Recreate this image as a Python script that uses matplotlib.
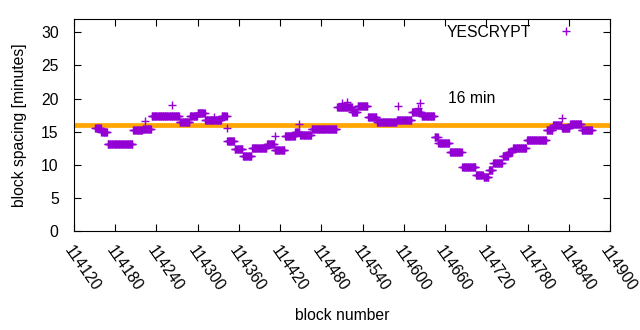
import numpy as np
import matplotlib.pyplot as plt

plt.rcParams['font.family'] = ['Liberation Sans', 'DejaVu Sans']

seg_start = [114151, 114160, 114169, 114206, 114220, 114233, 114274, 114289, 114300,
             114311, 114335, 114343, 114354, 114366, 114379, 114401, 114412, 114427,
             114442, 114449, 114466, 114503, 114525, 114533, 114548, 114561, 114590,
             114612, 114626, 114645, 114650, 114667, 114685, 114705, 114716, 114724,
             114730, 114744, 114752, 114759, 114779, 114808, 114817, 114830, 114842,
             114859]
seg_end = seg_start[1:] + [114875]
seg_value = [15.5, 15.0, 13.2, 15.2, 15.4, 17.3, 16.5, 17.3, 17.8,
             16.8, 17.4, 13.6, 12.4, 11.3, 12.6, 13.1, 12.2, 14.3,
             15.0, 14.5, 15.4, 18.7, 18.0, 18.8, 17.2, 16.5, 16.8,
             18.0, 17.3, 14.2, 13.3, 12.0, 9.7, 8.5, 8.1, 9.2,
             10.3, 11.3, 12.0, 12.6, 13.8, 15.3, 16.0, 15.5, 16.2,
             15.3]

# single blocks standing off their run
odd_block = [114223, 114263, 114324, 114343, 114412, 114447, 114510, 114518,
             114591, 114620, 114623, 114830]
odd_value = [16.6, 19.0, 17.2, 15.6, 14.4, 16.2, 19.3, 19.5,
             18.9, 18.6, 19.3, 17.0]

blocks = []
spacing = []
for s, e, v in zip(seg_start, seg_end, seg_value):
    for b in range(s, e):
        blocks.append(b)
        spacing.append(v)
blocks += odd_block
spacing += odd_value

target = 16
xticks = list(range(114120, 114901, 60))
fs = 11.3

fig = plt.figure(figsize=(6.4, 3.3), dpi=100)
ax = fig.add_axes([0.1156, 0.30, 0.8375, 0.6424])

ax.axhline(target, color='#FFA500', linewidth=3.4, zorder=1)
ax.plot(blocks, spacing, linestyle='none', marker='+', markersize=5.5,
        markeredgewidth=1.0, color='#9400D3', label='YESCRYPT', zorder=2)
ax.text(114665, 20, '16 min', fontsize=fs, ha='left', va='center')

ax.set_xlim(114120, 114900)
ax.set_ylim(0, 32)
ax.set_xticks(xticks)
ax.set_xticklabels([str(t) for t in xticks], rotation=-55, ha='left', va='top',
                   rotation_mode='anchor')
ax.set_yticks(range(0, 31, 5))
ax.tick_params(direction='in', length=5, width=0.8, top=True, right=True,
               labelsize=fs)
ax.tick_params(axis='y', pad=11)
ax.tick_params(axis='x', pad=9)
for sp in ax.spines.values():
    sp.set_linewidth(0.8)

ax.set_xlabel('block number', fontsize=fs, labelpad=10)
ax.set_ylabel('block spacing [minutes]', fontsize=fs, labelpad=10)

ax.legend(loc='upper right', bbox_to_anchor=(0.961, 0.972), markerfirst=False,
          frameon=False, fontsize=fs, borderpad=0, borderaxespad=0,
          handlelength=3, handletextpad=0.7, numpoints=1)

fig.savefig('out.png', dpi=100)
